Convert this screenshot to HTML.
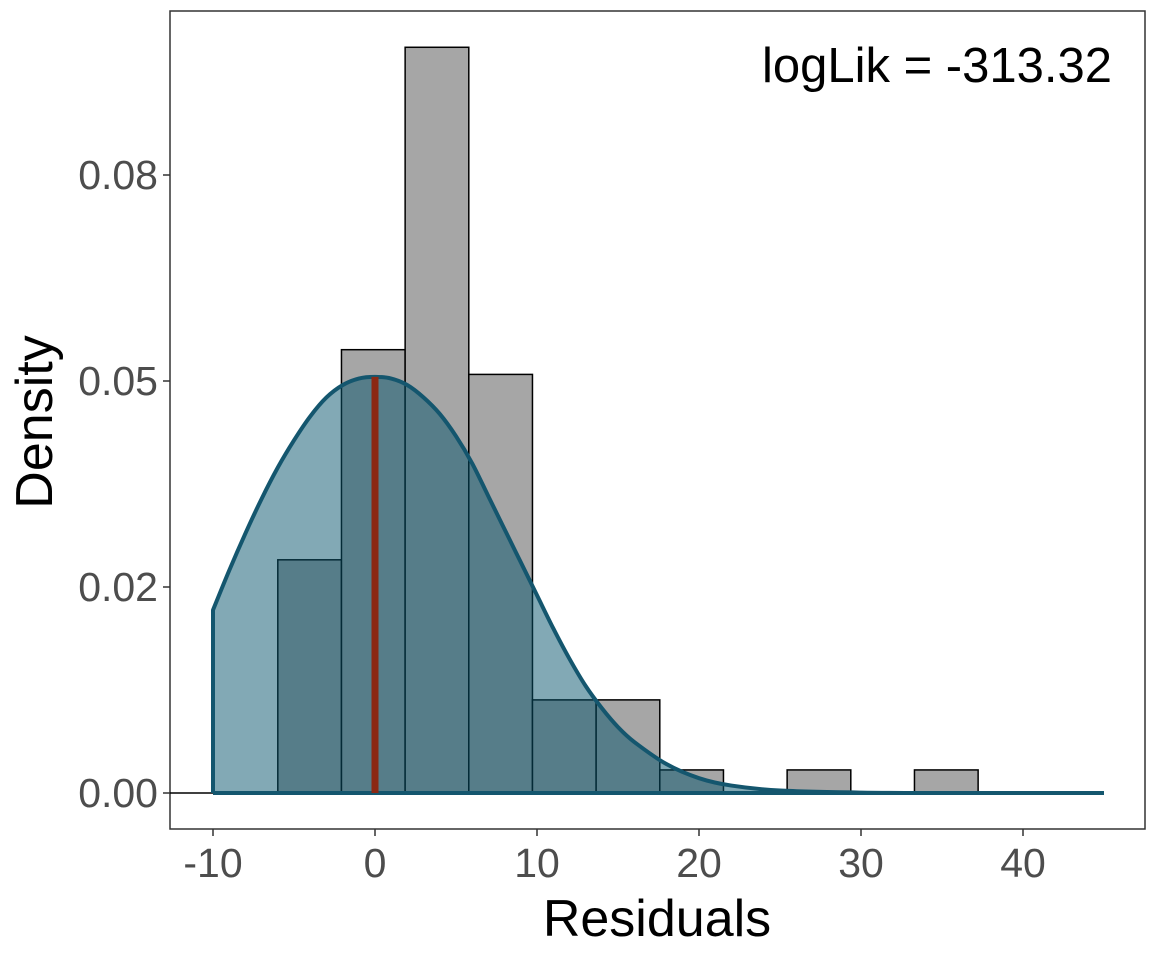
<!DOCTYPE html>
<html><head><meta charset="utf-8"><style>
body{margin:0;background:#fff;}
svg text{font-family:"Liberation Sans",sans-serif;}
</style></head><body>
<svg width="1152" height="960" xmlns="http://www.w3.org/2000/svg">
<rect x="170" y="11" width="975" height="818" fill="#fff" stroke="#333" stroke-width="1.5"/>
<g id="bars"></g><g id="curve"></g><g id="axes"></g>
<text x="1112" y="82" text-anchor="end" font-size="49" fill="#000">logLik = -313.32</text>
<text x="657" y="936" text-anchor="middle" font-size="52" fill="#000">Residuals</text>
<text transform="translate(52,422) rotate(-90)" text-anchor="middle" font-size="52" fill="#000">Density</text>
</svg>
<script>
const binStarts=[-6,-2.07,1.86,5.79,9.72,13.65,17.58,21.51,25.44,29.37,33.3];
const binDensity=[0.0283,0.0538,0.0905,0.0508,0.0113,0.0113,0.0028,0,0.0028,0,0.0028];
const binWidth=3.93;
const curveX=[-10,-9,-8,-7,-6,-5,-4,-3,-2,-1,0,1,2,3,4,5,6,7,8,9,10,11,12,13,14,15,16,18,20,22,25,30,35,45];
const curveY=[0.0222,0.027,0.0315,0.0357,0.0395,0.0428,0.0457,0.048,0.0495,0.0503,0.0505,0.0503,0.0495,0.048,0.046,0.0433,0.040,0.036,0.032,0.028,0.024,0.020,0.0163,0.013,0.0103,0.008,0.0062,0.0035,0.0018,0.0009,0.0003,0.00005,0,0];
const xTicks=[-10,0,10,20,30,40];
const yTicks=[0,0.025,0.05,0.075];
const yTickLabels=["0.00","0.02","0.05","0.08"];
const NS="http://www.w3.org/2000/svg";
const xs=v=>375+v*16.2, ys=v=>793-v*8240;
function mk(t,a,p){const e=document.createElementNS(NS,t);for(const k in a)e.setAttribute(k,a[k]);p.appendChild(e);return e;}
const gb=document.getElementById('bars'),gc=document.getElementById('curve'),ga=document.getElementById('axes');
mk('line',{x1:170,x2:1103,y1:ys(0),y2:ys(0),stroke:'#000','stroke-width':1.5},gb);
binStarts.forEach((s,i)=>{if(binDensity[i]<=0)return;
const r=mk('rect',{x:xs(s),y:ys(binDensity[i]),width:binWidth*16.2,height:ys(0)-ys(binDensity[i]),fill:'#a6a6a6',stroke:'#000','stroke-width':1.5},gb);

});
const P=curveX.map((x,i)=>[xs(x),ys(curveY[i])]);
function smooth(){let s='';for(let i=0;i<P.length-1;i++){const p0=P[Math.max(0,i-1)],p1=P[i],p2=P[i+1],p3=P[Math.min(P.length-1,i+2)];
s+=` C${p1[0]+(p2[0]-p0[0])/6},${p1[1]+(p2[1]-p0[1])/6} ${p2[0]-(p3[0]-p1[0])/6},${p2[1]-(p3[1]-p1[1])/6} ${p2[0]},${p2[1]}`;}return s;}
const sp=smooth();
const d=`M${P[0][0]},${ys(0)} L${P[0][0]},${P[0][1]}`+sp+` L${P[P.length-1][0]},${ys(0)} Z`;
const f=mk('path',{d:d,fill:'rgba(5,83,107,0.5)',stroke:'none'},gc);


const l=`M${P[0][0]},${ys(0)} L${P[0][0]},${P[0][1]}`+sp;
const c=mk('path',{d:l,fill:'none',stroke:'#14566e','stroke-width':4,'stroke-linejoin':'round'},gc);


const b=mk('line',{x1:xs(-10),x2:xs(45),y1:ys(0),y2:ys(0),stroke:'#14566e','stroke-width':4},gc);


const m=mk('line',{x1:xs(0),x2:xs(0),y1:ys(0),y2:ys(0.0505),stroke:'#8b2813','stroke-width':7},gc);


xTicks.forEach(v=>{mk('line',{x1:xs(v),x2:xs(v),y1:829,y2:836,stroke:'#333','stroke-width':1.5},ga);
const t=mk('text',{x:xs(v),y:877,'text-anchor':'middle','font-size':41,fill:'#4d4d4d'},ga);t.textContent=v;

});
yTicks.forEach((v,i)=>{mk('line',{x1:163,x2:170,y1:ys(v),y2:ys(v),stroke:'#333','stroke-width':1.5},ga);
const t=mk('text',{x:158,y:ys(v)+14,'text-anchor':'end','font-size':41,fill:'#4d4d4d'},ga);t.textContent=yTickLabels[i];

});
</script>
</body></html>
